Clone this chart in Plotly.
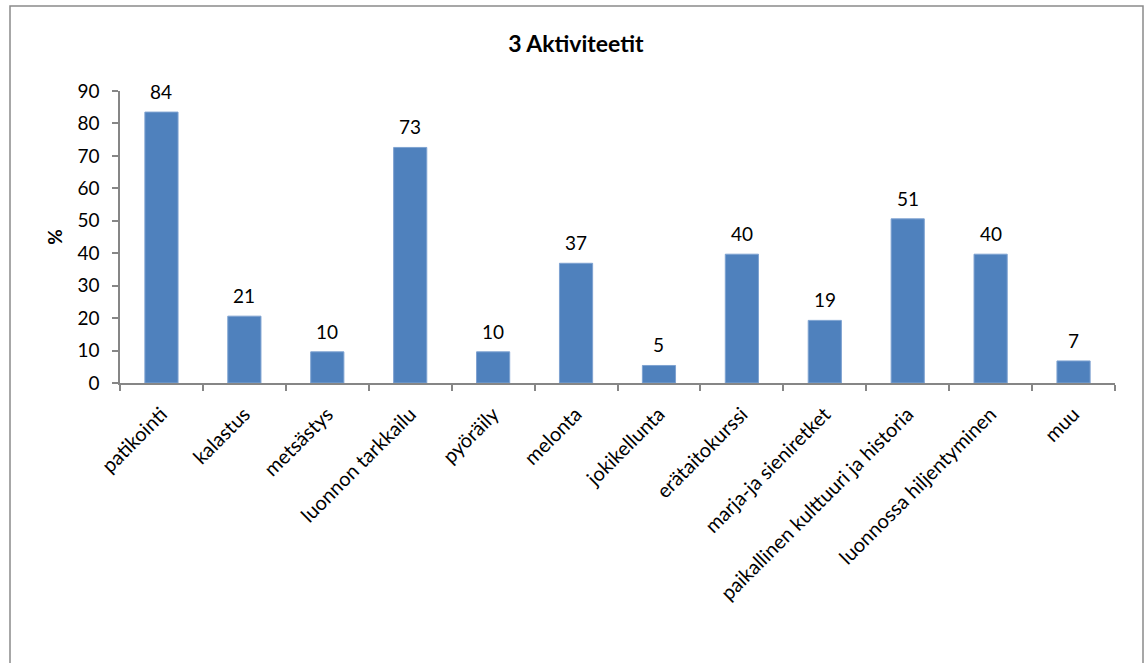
import plotly.graph_objects as go

categories = ["patikointi", "kalastus", "metsästys", "luonnon tarkkailu", "pyöräily",
              "melonta", "jokikellunta", "erätaitokurssi", "marja-ja sieniretket",
              "paikallinen kulttuuri ja historia", "luonnossa hiljentyminen", "muu"]
values = [83.5, 20.6, 9.6, 72.6, 9.6, 36.9, 5.4, 39.7, 19.3, 50.6, 39.7, 6.8]
y_ticks = [0, 10, 20, 30, 40, 50, 60, 70, 80, 90]

FONT = "Lato, Open Sans, sans-serif"
W, H = 1146, 663
ML, MR, MT, MB = 120, 31, 91, 280
PW, PH = W - ML - MR, H - MT - MB

fig = go.Figure()
fig.add_trace(go.Bar(
    x=categories, y=values,
    marker=dict(color="#4F81BD", line=dict(color="#7EA2D1", width=1)),
    hoverinfo="x+y",
))

for c, v in zip(categories, values):
    fig.add_annotation(x=c, y=v, text=f"{round(v)}", showarrow=False,
                       yanchor="bottom", yshift=7,
                       font=dict(family=FONT, size=19, color="#000000"))

def px_x(p):
    return (p - ML) / PW

def px_y(p):
    return (H - MB - p) / PH

fig.add_shape(type="rect", xref="paper", yref="paper",
              x0=px_x(10), x1=px_x(1143), y0=px_y(700), y1=px_y(6),
              line=dict(color="#8A8A8A", width=1.5), fillcolor="rgba(0,0,0,0)",
              layer="below")

fig.update_layout(
    width=W, height=H,
    margin=dict(l=ML, r=MR, t=MT, b=MB, autoexpand=False),
    paper_bgcolor="white", plot_bgcolor="white",
    showlegend=False,
    bargap=0.6,
    font=dict(family=FONT, size=19, color="#000000"),
    title=dict(text="<b>3 Aktiviteetit</b>", x=0.5025, xanchor="center",
               y=1 - 44 / H, yanchor="middle", yref="container",
               font=dict(family=FONT, size=23, color="#000000")),
    xaxis=dict(
        type="category", tickangle=-45, showline=True, linecolor="#868686", linewidth=1.5,
        ticks="outside", tickson="boundaries", ticklen=6, tickcolor="#868686", tickwidth=1.5,
        showgrid=False, tickfont=dict(family=FONT, size=20, color="#000000"),
        ticklabelstandoff=10,
    ),
    yaxis=dict(
        range=[0, 90], tickvals=y_ticks, showline=True, linecolor="#868686", linewidth=1.5,
        ticks="outside", ticklen=6, tickcolor="#868686", tickwidth=1.5,
        showgrid=False, zeroline=False,
        tickfont=dict(family=FONT, size=19, color="#000000"),
        ticklabelstandoff=9,
        title=dict(text="<b>%</b>", standoff=10, font=dict(family=FONT, size=19, color="#000000")),
    ),
)

fig.write_html("out.html")
